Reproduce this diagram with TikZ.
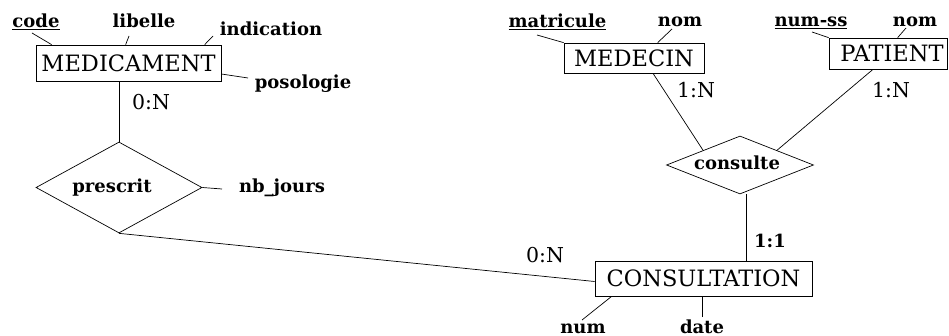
\documentclass[tikz,border=0pt]{standalone}
\usepackage{fontspec}
\setmainfont{DejaVu Serif}
\usetikzlibrary{shapes.geometric}

\begin{document}
\begin{tikzpicture}[x=1pt,y=-1pt,
  line width=0.7pt,
  entity/.style={draw,rectangle,inner sep=0pt,font=\fontsize{22.5}{22.5}\selectfont},
  relation/.style={draw,diamond,inner sep=0pt},
  attr/.style={inner sep=0pt,anchor=base,font=\bfseries\fontsize{18}{18}\selectfont},
  card/.style={inner sep=0pt,anchor=base,font=\fontsize{20.5}{20.5}\selectfont},
  cardb/.style={inner sep=0pt,anchor=base,font=\bfseries\fontsize{18}{18}\selectfont}]
\useasboundingbox[fill=white] (0,0) rectangle (949,336);

% entities
\node[entity,minimum width=185pt,minimum height=36pt] (med) at (128.5,63) {MEDICAMENT};
\node[entity,minimum width=140pt,minimum height=30pt] (doc) at (634,58) {MEDECIN};
\node[entity,minimum width=118pt,minimum height=31pt] (pat) at (888,53.5) {\hspace*{8pt}PATIENT};
\node[entity,minimum width=217pt,minimum height=35pt] (cons) at (703.5,278.5) {CONSULTATION};

% relationships
\node[relation,minimum width=166pt,minimum height=91pt] (presc) at (119,187.5) {};
\node[cardb] (presc-t) at (112,193) {prescrit};
\node[relation,minimum width=147pt,minimum height=58pt] (consu) at (740,165) {};
\node[cardb] (consu-t) at (737,170) {consulte};

% attributes
\node[attr] (code) at (36,28) {\underline{code}};
\node[attr] (lib) at (144,28) {libelle};
\node[attr] (ind) at (271,36) {indication};
\node[attr] (poso) at (303,89) {posologie};
\node[attr] (nbj) at (282,193) {nb\_jours};
\node[attr] (matr) at (557.5,28) {\underline{matricule}};
\node[attr] (nomd) at (680,27) {nom};
\node[attr] (nss) at (811,27) {\underline{num-ss}};
\node[attr] (nomp) at (915,27) {nom};
\node[attr] (num) at (583,333) {num};
\node[attr] (date) at (702,333) {date};

% cardinalities
\node[card] (c1) at (151,110) {0:N};
\node[card] (c2) at (696,98) {1:N};
\node[card] (c3) at (891,98) {1:N};
\node[cardb] (c4) at (770,248) {1:1};
\node[card] (c5) at (545,263) {0:N};

% attribute link ends
\coordinate (code-e) at (32,33);
\coordinate (lib-e) at (129,36);
\coordinate (ind-e) at (213,36);
\coordinate (poso-e) at (248,78);
\coordinate (nbj-e) at (222,189);
\coordinate (matr-e) at (537,35);
\coordinate (nomd-e) at (672,29);
\coordinate (nss-e) at (812,32);
\coordinate (nomp-e) at (906,28);
\coordinate (num-e) at (582,320);
\coordinate (date-e) at (702,317);

\draw (code-e) -- ([xshift=16pt]med.north west);
\draw (lib-e) -- ([xshift=90pt]med.north west);
\draw (ind-e) -- ([xshift=169pt]med.north west);
\draw (poso-e) -- ([yshift=-11pt]med.east);
\draw (nbj-e) -- (presc.east);
\draw (matr-e) -- (doc.north west);
\draw (nomd-e) -- ([xshift=94pt]doc.north west);
\draw (nss-e) -- (pat.north west);
\draw (nomp-e) -- ([xshift=69pt]pat.north west);
\draw (num-e) -- ([xshift=17pt]cons.south west);
\draw (date-e) -- (date-e |- cons.south);

% relationship links
\draw (presc.north |- med.south) -- (presc.north);
\draw (presc.south) -- ([yshift=-3pt]cons.west);
\draw ([xshift=19pt]doc.south) -- (consu.north west);
\draw ([xshift=-15pt]pat.south) -- (consu.north east);
\draw ([xshift=6pt]consu.south) -- ([xshift=6pt]consu.south |- cons.north);
\end{tikzpicture}
\end{document}
